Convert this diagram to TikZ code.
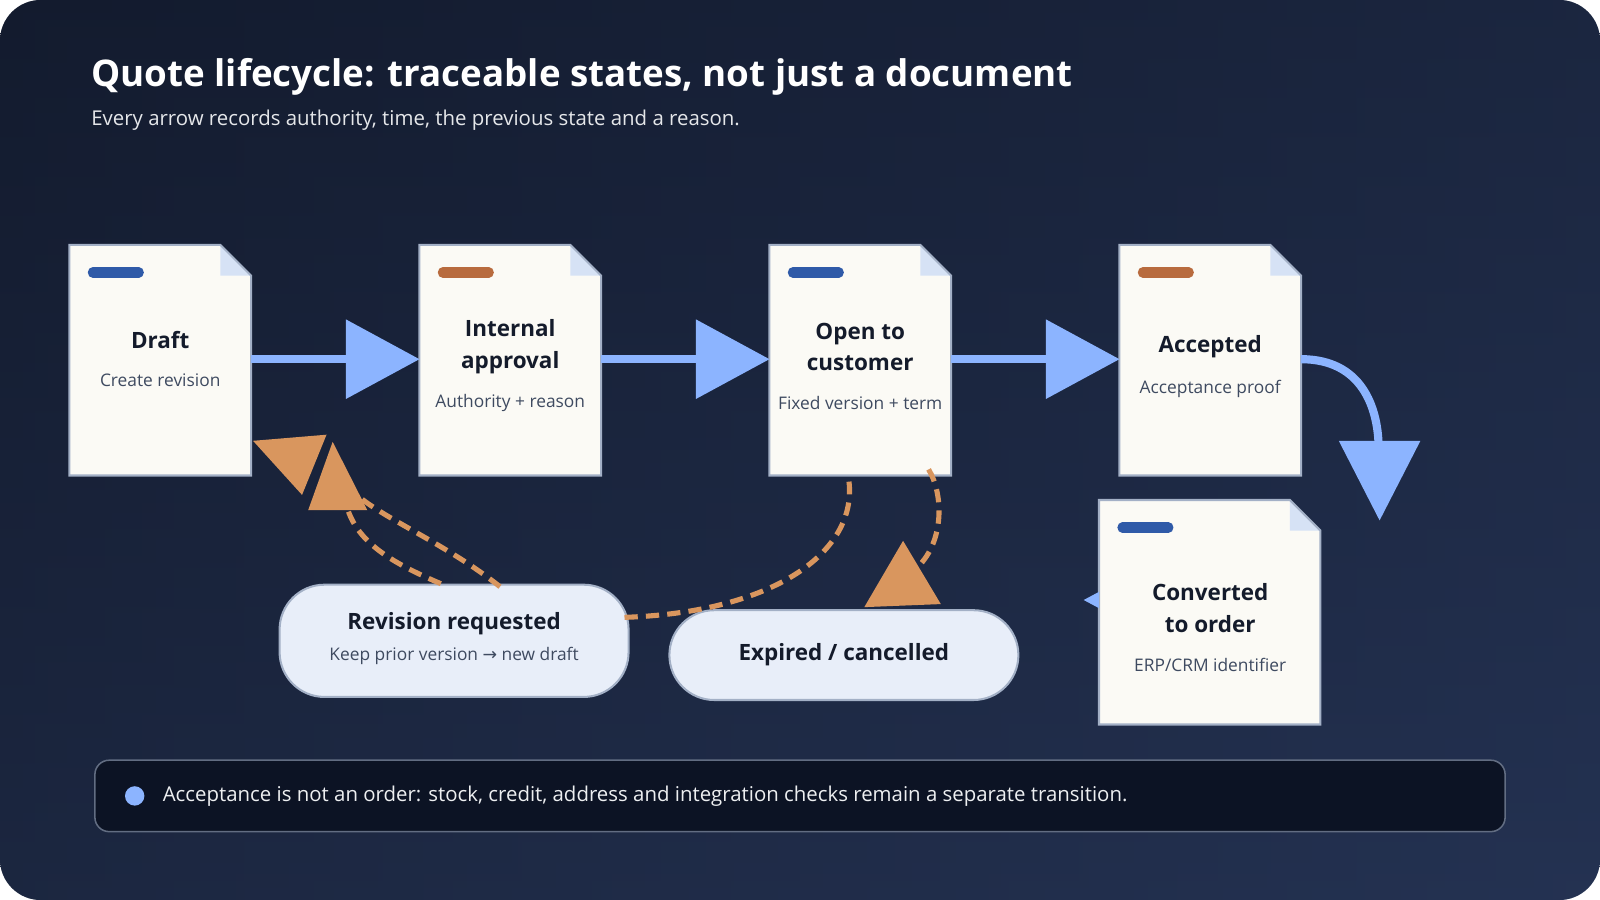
\documentclass[tikz,border=0pt]{standalone}
\usepackage{fontspec}
\setmainfont{Open Sans}
\newfontfamily\symfont{DejaVu Sans}
\usetikzlibrary{positioning,arrows.meta,calc}
\definecolor{bgA}{HTML}{131B2E}
\definecolor{bgB}{HTML}{243252}
\definecolor{paper}{HTML}{FBFAF5}
\definecolor{edge}{HTML}{A3B0C6}
\definecolor{fold}{HTML}{D6E2F5}
\definecolor{barblue}{HTML}{2F5AA8}
\definecolor{barorange}{HTML}{B86B3E}
\definecolor{flow}{HTML}{8CB4FF}
\definecolor{back}{HTML}{D9965E}
\definecolor{pill}{HTML}{E8EEF9}
\definecolor{ink}{HTML}{141B2B}
\definecolor{subink}{HTML}{3E4A60}
\definecolor{notebg}{HTML}{0C1324}
\newcommand{\fs}[2]{\fontsize{#1}{#2}\selectfont}
\newcommand{\doccard}[5]{% x, y, w, h, bar colour
  \fill[paper] (#1,#2) -- ++(#3-30,0) -- ++(30,30) -- ++(0,#4-30) -- ++(-#3,0) -- cycle;
  \fill[fold] (#1+#3-30,#2) -- ++(30,30) -- ++(-30,0) -- cycle;
  \draw[edge, line width=2pt] (#1,#2) -- ++(#3-30,0) -- ++(30,30) -- ++(0,#4-30) -- ++(-#3,0) -- cycle;
  \draw[#5, line width=10pt, line cap=round] (#1+23,#2+27) -- ++(45,0);
}
\begin{document}
\begin{tikzpicture}[x=1pt, y=-1pt,
  ttl/.style={text=ink, font=\fs{22}{31}\bfseries, align=center},
  sub/.style={text=subink, font=\fs{17}{21}, align=center},
  state/.style={draw=edge, line width=2pt, fill=pill, rounded corners=44pt, minimum width=342pt, align=center},
  fwd/.style={flow, line width=8pt},
  retn/.style={back, line width=5pt, dash pattern=on 13pt off 8pt},
]
\useasboundingbox (0,0) rectangle (1568,882);
\fill[white] (0,0) rectangle (1568,882);
\shade[left color=bgA, right color=bgB, rounded corners=40pt] (0,0) rectangle (1568,882);
\shade[top color=bgA, bottom color=bgB, opacity=0.5, rounded corners=40pt] (0,0) rectangle (1568,882);

% heading
\node[anchor=west, text=white, font=\fs{36}{42}\bfseries] (title) at (86,75) {Quote lifecycle: traceable states, not just a document};
\node[anchor=west, text=white!88!bgB, font=\fs{20}{24}] (subtitle) at (86,118) {Every arrow records authority, time, the previous state and a reason.};

% document cards
\doccard{68}{240}{178}{226}{barblue}
\doccard{411}{240}{178}{226}{barorange}
\doccard{754}{240}{178}{226}{barblue}
\doccard{1097}{240}{178}{226}{barorange}
\doccard{1077}{490}{217}{220}{barblue}
\node[ttl] (draftT) at (157,333) {Draft};
\node[sub] (draftS) at (157,373) {Create revision};
\node[ttl] (approvalT) at (500,340) {Internal\\approval};
\node[sub] (approvalS) at (500,395) {Authority + reason};
\node[ttl] (openT) at (843,340) {Open to\\customer};
\node[sub] (openS) at (843,395) {Fixed version + term};
\node[ttl] (acceptedT) at (1186,340) {Accepted};
\node[sub] (acceptedS) at (1186,381) {Acceptance proof};
\node[ttl] (convertedT) at (1186,596) {Converted\\to order};
\node[sub] (convertedS) at (1186,652) {ERP/CRM identifier};

% side states
\node[state, minimum height=110pt] (revision) at (445,628) {};
\node[ttl] (revisionT) at (445,611) {Revision requested};
\node[sub] (revisionS) at (445,643) {Keep prior version {\symfont →} new draft};
\node[state, minimum height=88pt, font=\fs{22}{26}\bfseries, text=ink] (expired) at (827,642) {Expired / cancelled};

% forward flow
\coordinate (d1) at (246,352); \coordinate (a1) at (411,352);
\coordinate (d2) at (589,352); \coordinate (a2) at (754,352);
\coordinate (d3) at (932,352); \coordinate (a3) at (1097,352);
\foreach \s/\t in {d1/a1, d2/a2, d3/a3}{
  \draw[fwd] (\s) -- ($(\t)+(-72,0)$);
  \fill[flow] (\t) -- ++(-72,-39) -- ++(0,78) -- cycle;
}
\coordinate (acc) at (1275,352);
\coordinate (conv) at (1352,510);
\draw[fwd] (acc) .. controls (1335,352) and (1350,400) .. (1351,436);
\fill[flow] (conv) -- (1312,432) -- (1392,432) -- cycle;
\fill[flow] (1062,588) -- (1077,580) -- (1077,596) -- cycle;

% return paths
\coordinate (revA) at (490,575);
\coordinate (revB) at (432,572);
\draw[retn] (revA) .. controls (440,535) and (380,510) .. (352,487);
\draw[retn] (revB) .. controls (380,550) and (350,530) .. (340,497);
\fill[back] (248,432) -- (320,426) -- (296,485) -- cycle;
\fill[back] (326,433) -- (302,500) -- (360,500) -- cycle;
\coordinate (revC) at (612,605);
\draw[retn] (revC) .. controls (760,600) and (840,540) .. (832,472);
\draw[retn] (910,460) .. controls (925,485) and (925,530) .. (900,555);
\fill[back] (885,530) -- (847,595) -- (922,592) -- cycle;

% note bar
\draw[draw=edge!55!bgA, line width=1.5pt, fill=notebg, rounded corners=14pt] (93,745) rectangle (1475,815);
\fill[flow] (132,780) circle (9.5);
\node[anchor=west, text=white!92!bgB, font=\fs{20}{24}] (note) at (156,780) {Acceptance is not an order: stock, credit, address and integration checks remain a separate transition.};
\end{tikzpicture}
\end{document}
